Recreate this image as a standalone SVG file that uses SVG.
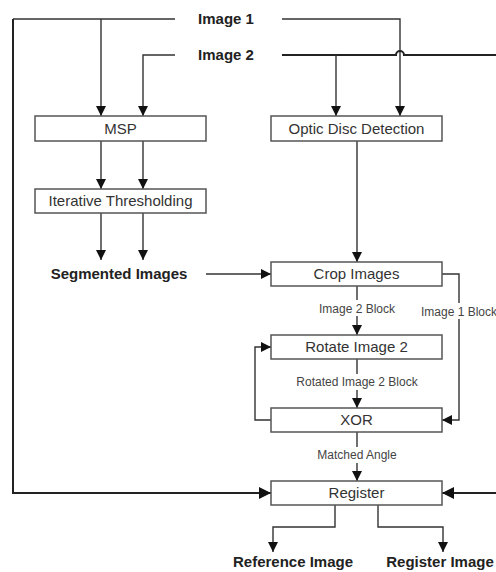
<svg xmlns="http://www.w3.org/2000/svg" width="496" height="572" viewBox="0 0 496 572">
<style>
.box{fill:#fff;stroke:#555;stroke-width:1.5}
.bt{font-family:"Liberation Sans",Arial,sans-serif;font-size:15px;fill:#333;text-anchor:middle}
.bl{font-family:"Liberation Sans",Arial,sans-serif;font-size:15px;font-weight:bold;fill:#222;text-anchor:middle}
.el{font-family:"Liberation Sans",Arial,sans-serif;font-size:12px;fill:#444;text-anchor:middle}
.c{fill:none;stroke:#333;stroke-width:1.4}
.ct{fill:none;stroke:#222;stroke-width:2}
</style>
<defs>
<marker id="ah" viewBox="0 0 10 10" refX="10" refY="5" markerWidth="10" markerHeight="10" markerUnits="userSpaceOnUse" orient="auto">
<path d="M0,0 L10,5 L0,10 z" fill="#111"/>
</marker>
<marker id="ahb" viewBox="0 0 10 10" refX="10" refY="5" markerWidth="12" markerHeight="12" markerUnits="userSpaceOnUse" orient="auto">
<path d="M0,0 L10,5 L0,10 z" fill="#111"/>
</marker>
</defs>
<rect width="496" height="572" fill="#fff"/>
<g id="connectors">
<path class="c" d="M175,19 H13"/>
<path class="ct" d="M13,19 V493 H271" marker-end="url(#ahb)"/>
<path class="c" d="M101,19 V116" marker-end="url(#ah)"/>
<path class="c" d="M282,19 H400 V116" marker-end="url(#ah)"/>
<path class="c" d="M175,55 H143 V116" marker-end="url(#ah)"/>
<path class="ct" d="M282,55 H396 A4,4 0 0 1 404,55 H500 V493 H442" marker-end="url(#ahb)"/>
<path class="c" d="M336,55 V116" marker-end="url(#ah)"/>
<path class="c" d="M101,141 V189" marker-end="url(#ah)"/>
<path class="c" d="M143,141 V189" marker-end="url(#ah)"/>
<path class="c" d="M101,213 V260" marker-end="url(#ah)"/>
<path class="c" d="M143,213 V260" marker-end="url(#ah)"/>
<path class="c" d="M206,274 H271" marker-end="url(#ah)"/>
<path class="c" d="M357,141 V262" marker-end="url(#ah)"/>
<path class="c" d="M357,286 V335" marker-end="url(#ah)"/>
<path class="c" d="M442,274 H459 V420 H442" marker-end="url(#ah)"/>
<path class="c" d="M357,359 V408" marker-end="url(#ah)"/>
<path class="c" d="M271,420 H255 V347 H271" marker-end="url(#ah)"/>
<path class="c" d="M357,432 V481" marker-end="url(#ah)"/>
<path class="c" d="M335,505 V527 H273 V552" marker-end="url(#ah)"/>
<path class="c" d="M378,505 V527 H443 V552" marker-end="url(#ah)"/>
<rect x="318" y="300" width="78" height="16" fill="#fff"/>
<text class="el" x="357" y="313">Image 2 Block</text>
<rect x="420" y="303" width="80" height="16" fill="#fff"/>
<text class="el" x="459" y="316">Image 1 Block</text>
<rect x="295" y="374" width="124" height="16" fill="#fff"/>
<text class="el" x="357" y="386">Rotated Image 2 Block</text>
<rect x="314" y="447" width="86" height="16" fill="#fff"/>
<text class="el" x="357" y="459">Matched Angle</text>
</g>
<g id="image1"><text class="bl" x="226" y="24">Image 1</text></g>
<g id="image2"><text class="bl" x="226" y="60">Image 2</text></g>
<g id="msp"><rect class="box" x="35" y="116" width="171" height="25"/><text class="bt" x="120.5" y="134">MSP</text></g>
<g id="optic"><rect class="box" x="271" y="116" width="171" height="25"/><text class="bt" x="356.5" y="134">Optic Disc Detection</text></g>
<g id="iterative"><rect class="box" x="35" y="189" width="171" height="24"/><text class="bt" x="120.5" y="206">Iterative Thresholding</text></g>
<g id="segmented"><text class="bl" x="119" y="279">Segmented Images</text></g>
<g id="crop"><rect class="box" x="271" y="262" width="171" height="24"/><text class="bt" x="356.5" y="279">Crop Images</text></g>
<g id="rotate"><rect class="box" x="271" y="335" width="171" height="24"/><text class="bt" x="356.5" y="352">Rotate Image 2</text></g>
<g id="xor"><rect class="box" x="271" y="408" width="171" height="24"/><text class="bt" x="356.5" y="425">XOR</text></g>
<g id="register"><rect class="box" x="271" y="481" width="171" height="24"/><text class="bt" x="356.5" y="498">Register</text></g>
<g id="reference"><text class="bl" x="293" y="567">Reference Image</text></g>
<g id="registerimg"><text class="bl" x="440" y="567">Register Image</text></g>
</svg>
